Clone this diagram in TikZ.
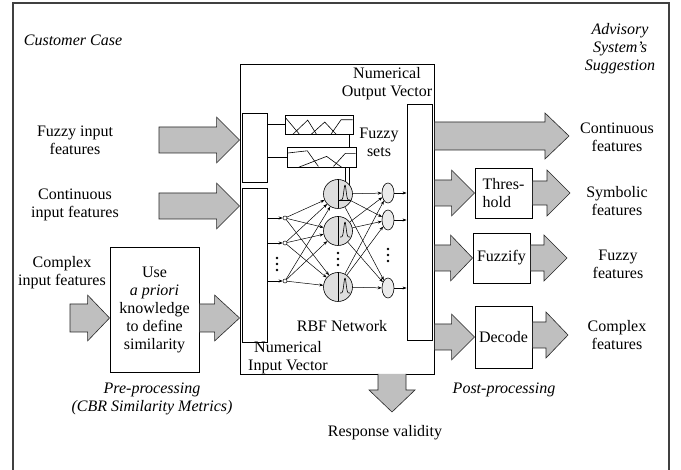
\documentclass[tikz,border=0pt]{standalone}
\usepackage{fontspec}
\setmainfont{Liberation Serif}
\usetikzlibrary{shapes.geometric,arrows.meta,calc}

\tikzset{
  txt/.style={inner sep=0pt, align=center, font=\fontsize{16}{18}\selectfont},
  itxt/.style={inner sep=0pt, align=center, font=\fontsize{16}{18}\selectfont\itshape},
  box/.style={draw=black, line width=0.9pt, fill=white, inner sep=0pt},
  bar/.style={draw=black, line width=0.9pt, fill=white, inner sep=0pt, minimum width=25pt},
  fat/.style={draw=black!85, line width=0.6pt, fill=black!25, line join=miter},
  netarr/.style={line width=0.5pt, -{Stealth[length=4pt,width=3pt]}},
  neuron/.style={circle, draw, line width=0.6pt, fill=black!13, minimum size=29pt, inner sep=0pt},
  outn/.style={ellipse, draw, line width=0.6pt, fill=black!8, minimum width=12pt, minimum height=20pt, inner sep=0pt},
  inn/.style={circle, draw, line width=0.5pt, fill=white, minimum size=4pt, inner sep=0pt},
  fsline/.style={line width=0.6pt},
}

% horizontal block arrow: #1 tail point, #2 tip, #3 head length, #4 body half height, #5 head half height
\newcommand\fatR[5]{%
  \draw[fat] let \p1=(#1), \p2=(#2) in
    (\x1,{\y2+#4}) -- ({\x2-#3},{\y2+#4}) -- ({\x2-#3},{\y2+#5}) -- (\x2,\y2)
    -- ({\x2-#3},{\y2-#5}) -- ({\x2-#3},{\y2-#4}) -- (\x1,{\y2-#4}) -- cycle;}

% three stacked dots
\newcommand\vdotsat[1]{%
  \foreach \d in {-6,0,6} \fill ($(#1)+(0,\d)$) circle (1.3pt);}

% bell-shaped activation drawn in the right half of a neuron
\newcommand\bell[1]{%
  \draw[line width=0.6pt, shift={(#1)}] (0,-14.5) -- (0,14.5);
  \draw[line width=0.6pt, shift={(#1)}]
    plot[domain=2:12, samples=40, smooth] (\x, {6-15*exp(-((\x-7)/1.6)^2)});}

\begin{document}
\begin{tikzpicture}[x=1pt, y=-1pt]
\useasboundingbox (0,0) rectangle (681,470);
\fill[white] (0,0) rectangle (681,470);

% outer frame
\draw[line width=1.1pt, black!75] (13,472) -- (13,3) -- (669,3) -- (669,472);

% headings
\node[itxt] (cust) at (73,40) {Customer Case};
\node[itxt] (advis) at (620,49) {Advisory\\System's\\Suggestion};

% input labels
\node[txt] (lfuz) at (75,140) {Fuzzy input\\features};
\node[txt] (lcont) at (75,205) {Continuous\\input features};
\node[txt] (lcomp) at (62,273) {Complex\\input features};

% pre-processing block
\node[box, txt, minimum width=89pt, minimum height=125pt] (pre) at (154.5,309.5)
  {Use\\\textit{a priori}\\knowledge\\to define\\similarity};
\node[itxt] (lpre) at (152,399) {Pre-processing\\(CBR Similarity Metrics)};

% main network block
\node[box, minimum width=194pt, minimum height=310pt] (main) at (337,219) {};
\node[bar, minimum height=69pt] (fuzbar) at (254.5,147.5) {};
\node[bar, minimum height=154pt] (inbar) at (254.5,265) {};
\node[bar, minimum height=236pt] (outbar) at (419.5,222) {};

\node[txt] (lout) at (387,84) {Numerical\\Output Vector};
\node[txt] (lin) at (288,358) {Numerical\\Input Vector};
\node[txt] (lrbf) at (342,326) {RBF Network};
\node[txt] (lsets) at (379,142) {Fuzzy\\sets};

% fuzzy set boxes and their links
\node[box, line width=0.8pt, minimum width=68pt, minimum height=19pt] (fs1) at (319,124.5) {};
\draw[fsline] (fuzbar.east |- fs1) -- (fs1.west);
\draw[fsline] (349,134) -- (349,194);
\draw[fsline] (345,160) -- (345,194);
\node[box, line width=0.8pt, minimum width=69pt, minimum height=20pt] (fs2) at (321.5,157) {};
\draw[fsline] (fuzbar.east |- fs2) -- (fs2.west);

\begin{scope}[shift={(fs1.south west)}, x={(68pt,0pt)}, y={(0pt,19pt)}, line width=0.6pt]
  \draw (0.02,0.85) -- (0.22,0);
  \draw (0.12,0) -- (0.34,0.75) -- (0.47,0);
  \draw (0.39,0) -- (0.59,0.65) -- (0.76,0);
  \draw (0.68,0) -- (0.83,0.77) -- (1,0.77);
\end{scope}
\begin{scope}[shift={(fs2.south west)}, x={(69pt,0pt)}, y={(0pt,20pt)}, line width=0.6pt]
  \draw (0.02,0.72) -- (0.3,0.83) -- (0.46,0.05);
  \draw (0.17,0) -- (0.58,0.55) -- (0.8,0);
  \draw (0.68,0.05) -- (0.85,0.7) -- (1,0.7);
\end{scope}

% RBF network
\node[inn] (i1) at (285,218) {};
\node[inn] (i2) at (285,243) {};
\node[inn] (i3) at (285,281) {};
\node[neuron] (n1) at (338,194) {};
\node[neuron] (n2) at (338,231) {};
\node[neuron] (n3) at (338,287) {};
\node[outn] (o1) at (388,193) {};
\node[outn] (o2) at (388,220) {};
\node[outn] (o3) at (388,288) {};
\bell{n1}\bell{n2}\bell{n3}
\draw[line width=0.8pt] ($(n1)+(1,6)$) -- ($(n1)+(13,6)$);

\foreach \a in {i1,i2,i3} \draw[netarr] (inbar.east |- \a) -- (\a);
\foreach \a in {i1,i2,i3} \foreach \b in {n1,n2,n3} \draw[netarr] (\a) -- (\b);
\foreach \a in {n1,n2,n3} \foreach \b in {o1,o2,o3} \draw[netarr] (\a) -- (\b);
\foreach \b in {o1,o2,o3} \draw[netarr] (\b) -- (outbar.west |- \b);

\coordinate (di) at (277,264);
\coordinate (dn) at (338,259);
\coordinate (do) at (388,255);
\vdotsat{di}\vdotsat{dn}\vdotsat{do}

% post-processing blocks
\node[box, txt, align=left, minimum width=57pt, minimum height=50pt] (thr) at (503.5,193) {Thres-\\hold};
\node[box, txt, minimum width=57pt, minimum height=50pt] (fzf) at (501.5,258) {Fuzzify};
\node[box, txt, minimum width=57pt, minimum height=62pt] (dec) at (503.5,337) {Decode};
\node[itxt] (lpost) at (504,390) {Post-processing};

% output labels
\node[txt] (rcont) at (617,137) {Continuous\\features};
\node[txt] (rsym) at (617,201) {Symbolic\\features};
\node[txt] (rfuz) at (618,264) {Fuzzy\\features};
\node[txt] (rcomp) at (617,335) {Complex\\features};

% block arrows on the input side
\coordinate (sfuz) at (159,140);
\coordinate (scont) at (159,206);
\coordinate (scomp) at (70,318);
\fatR{sfuz}{main.west |- sfuz}{23}{13}{23}
\fatR{scont}{main.west |- scont}{23}{13}{23}
\fatR{scomp}{pre.west |- scomp}{22}{14}{23}
\fatR{pre.east |- scomp}{main.west |- scomp}{25}{14}{23}

% block arrows on the output side
\coordinate (tcont) at (569,136);
\fatR{main.east |- tcont}{tcont}{24}{14}{23}
\fatR{main.east |- thr}{thr.west}{23}{13}{23}
\fatR{thr.east}{570,193}{23}{12}{23}
\fatR{main.east |- fzf}{fzf.west}{22}{13}{23}
\fatR{fzf.east}{567,258}{23}{13}{23}
\fatR{main.east |- dec}{dec.west}{23}{13}{23}
\fatR{dec.east}{568,335}{22}{13}{23}

% response validity
\draw[fat] (378,374) -- (378,390) -- (369,390) -- (392,412) -- (415,390) -- (406,390) -- (406,374);
\node[txt] (resp) at (385,433) {Response validity};
\end{tikzpicture}
\end{document}
